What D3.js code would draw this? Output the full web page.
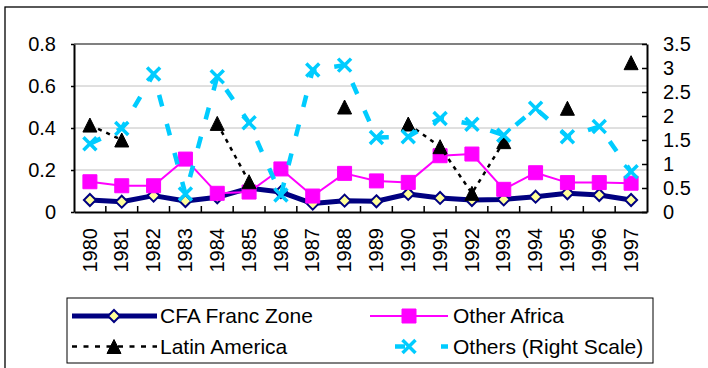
<!DOCTYPE html>
<html>
<head>
<meta charset="utf-8">
<script src="https://cdn.jsdelivr.net/npm/d3@7"></script>
<style>
  html, body { margin: 0; padding: 0; background: #fff; }
  svg { display: block; }
  text { font-family: "Liberation Sans", Arial, sans-serif; fill: #000; }
</style>
</head>
<body>
<svg id="chart" width="708" height="368"></svg>
<script>
// Years on the category axis
const years = ["1980","1981","1982","1983","1984","1985","1986","1987","1988",
               "1989","1990","1991","1992","1993","1994","1995","1996","1997"];

// Left-scale series
const cfaFrancZone = [0.057,0.049,0.078,0.052,0.070,0.114,0.095,0.040,0.054,
                      0.051,0.086,0.067,0.057,0.060,0.073,0.089,0.081,0.057];
const otherAfrica  = [0.144,0.125,0.125,0.252,0.089,0.095,0.205,0.076,0.184,
                      0.148,0.141,0.268,0.276,0.108,0.187,0.140,0.140,0.137];
const latinAmerica = [0.414,0.343,null,null,0.422,0.144,null,null,0.500,
                      null,0.419,0.311,0.089,0.335,null,0.494,null,0.711];

// Right-scale series
const othersRight  = [1.42,1.74,2.875,0.375,2.82,1.86,0.354,2.96,3.06,
                      1.55,1.57,1.95,1.83,1.60,2.16,1.57,1.78,0.84];

// Axis ticks
const leftTicks  = [0, 0.2, 0.4, 0.6, 0.8];
const rightTicks = [0, 0.5, 1, 1.5, 2, 2.5, 3, 3.5];

const svg = d3.select("#chart");

// Outer chart frame (runs past the right and bottom edges)
svg.append("rect")
  .attr("x", 5).attr("y", 7).attr("width", 760).attr("height", 420)
  .attr("fill", "none").attr("stroke", "#000").attr("stroke-width", 1.3);

const plot = { left: 74, right: 647, top: 44, bottom: 212 };

const x = d3.scaleBand().domain(years).range([plot.left, plot.right]);
const cx = d => x(d) + x.bandwidth() / 2;
const yL = d3.scaleLinear().domain([0, 0.8]).range([plot.bottom, plot.top]);
const yR = d3.scaleLinear().domain([0, 3.5]).range([plot.bottom, plot.top]);

// Gridlines
svg.append("g").selectAll("line")
  .data(leftTicks.filter(t => t > 0 && t < 0.8))
  .join("line")
  .attr("x1", plot.left).attr("x2", plot.right)
  .attr("y1", d => yL(d)).attr("y2", d => yL(d))
  .attr("stroke", "#c0c0c0").attr("stroke-width", 1);

// Plot frame: grey top edge
svg.append("line")
  .attr("x1", plot.left).attr("x2", plot.right)
  .attr("y1", plot.top).attr("y2", plot.top)
  .attr("stroke", "#808080").attr("stroke-width", 2);

// Left axis
const leftAxis = svg.append("g")
  .attr("transform", `translate(${plot.left},0)`)
  .call(d3.axisLeft(yL).tickValues(leftTicks).tickFormat(d => String(d))
        .tickSize(3).tickSizeOuter(0).tickPadding(15));
leftAxis.selectAll("text").style("font-size", "20px")
  .style("font-family", "Liberation Sans, Arial, sans-serif");
leftAxis.select(".domain").attr("stroke-width", 2);
leftAxis.selectAll(".tick line").attr("stroke-width", 1.5);

// Right axis (ticks point inward)
const rightAxis = svg.append("g")
  .attr("transform", `translate(${plot.right},0)`)
  .call(d3.axisRight(yR).tickValues(rightTicks).tickFormat(d => String(d))
        .tickSize(-5).tickSizeOuter(0).tickPadding(16));
rightAxis.selectAll("text").style("font-size", "20px")
  .style("font-family", "Liberation Sans, Arial, sans-serif");
rightAxis.select(".domain").attr("stroke-width", 2);
rightAxis.selectAll(".tick line").attr("stroke-width", 1.5);

// Bottom axis with rotated year labels
const bottomAxis = svg.append("g")
  .attr("transform", `translate(0,${plot.bottom})`)
  .call(d3.axisBottom(x).tickSize(0).tickSizeOuter(0).tickPadding(0));
bottomAxis.select(".domain").attr("stroke-width", 2);
bottomAxis.selectAll("text")
  .style("font-size", "20px")
  .style("font-family", "Liberation Sans, Arial, sans-serif")
  .attr("transform", "rotate(-90)")
  .attr("x", -16).attr("y", 0).attr("dy", "0.33em")
  .attr("text-anchor", "end");

// Inward tick marks at category boundaries
svg.append("g").selectAll("line")
  .data(years.slice(1))
  .join("line")
  .attr("x1", d => x(d)).attr("x2", d => x(d))
  .attr("y1", plot.bottom).attr("y2", plot.bottom - 6)
  .attr("stroke", "#000").attr("stroke-width", 1.5);

// Marker shapes
const shapes = {
  diamond: r => `M0,${-r}L${r},0L0,${r}L${-r},0Z`,
  square: r => `M${-r},${-r}H${r}V${r}H${-r}Z`,
  triangle: r => `M0,${-r}L${r},${r}L${-r},${r}Z`,
  cross: r => `M${-r},${-r}L${r},${r}M${r},${-r}L${-r},${r}`
};

const series = [
  { name: "CFA Franc Zone", values: cfaFrancZone, y: yL,
    line: { stroke: "#000080", width: 5, dash: null },
    marker: { shape: "diamond", r: 6, fill: "#ffff99", stroke: "#000080", sw: 2 } },
  { name: "Other Africa", values: otherAfrica, y: yL,
    line: { stroke: "#ff00ff", width: 2, dash: null },
    marker: { shape: "square", r: 7, fill: "#ff00ff", stroke: "#ff00ff", sw: 1 } },
  { name: "Latin America", values: latinAmerica, y: yL,
    line: { stroke: "#000", width: 2.5, dash: "4,5" },
    marker: { shape: "triangle", r: 7, fill: "#000", stroke: "#000", sw: 1 } },
  { name: "Others (Right Scale)", values: othersRight, y: yR,
    line: { stroke: "#00ccff", width: 4.5, dash: "12,18" },
    marker: { shape: "cross", r: 6.5, fill: "none", stroke: "#00ccff", sw: 3.5 } }
];

series.forEach(s => {
  const pts = years.map((yr, i) => ({ yr, v: s.values[i] }));
  const line = d3.line()
    .defined(d => d.v != null)
    .x(d => cx(d.yr))
    .y(d => s.y(d.v));
  svg.append("path")
    .datum(pts)
    .attr("d", line)
    .attr("fill", "none")
    .attr("stroke", s.line.stroke)
    .attr("stroke-width", s.line.width)
    .attr("stroke-dasharray", s.line.dash)
    .attr("stroke-linejoin", "round");
  svg.append("g").selectAll("path")
    .data(pts.filter(d => d.v != null))
    .join("path")
    .attr("transform", d => `translate(${cx(d.yr)},${s.y(d.v)})`)
    .attr("d", shapes[s.marker.shape](s.marker.r))
    .attr("fill", s.marker.fill)
    .attr("stroke", s.marker.stroke)
    .attr("stroke-width", s.marker.sw);
});

// Legend
const legend = svg.append("g");
legend.append("rect")
  .attr("x", 67).attr("y", 298).attr("width", 586).attr("height", 65)
  .attr("fill", "#fff").attr("stroke", "#000").attr("stroke-width", 1);

const legendPos = [
  { x1: 72, x2: 157, mx: 114, tx: 160, y: 316 },
  { x1: 370, x2: 448, mx: 409, tx: 453, y: 316 },
  { x1: 72, x2: 157, mx: 114, tx: 160, y: 346.5 },
  { x1: 370, x2: 448, mx: 409, tx: 453, y: 346.5 }
];

series.forEach((s, i) => {
  const p = legendPos[i];
  legend.append("line")
    .attr("x1", p.x1).attr("x2", p.x2).attr("y1", p.y).attr("y2", p.y)
    .attr("stroke", s.line.stroke)
    .attr("stroke-width", s.line.width)
    .attr("stroke-dasharray", s.line.dash ? (i === 3 ? "0,25,10,11" : "5,6.5") : null);
  legend.append("path")
    .attr("transform", `translate(${p.mx},${p.y})`)
    .attr("d", shapes[s.marker.shape](s.marker.r))
    .attr("fill", s.marker.fill)
    .attr("stroke", s.marker.stroke)
    .attr("stroke-width", s.marker.sw);
  legend.append("text")
    .attr("x", p.tx).attr("y", p.y).attr("dy", "0.35em")
    .style("font-size", "21px")
    .text(s.name);
});
</script>
</body>
</html>
